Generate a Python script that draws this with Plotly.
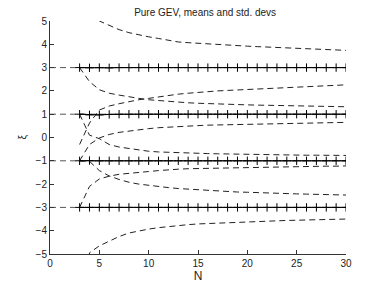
import plotly.graph_objects as go

N = list(range(3, 31))

true_xi = [3, 1, -1, -3]

mean_p3 = [3.00, 2.99, 3.00, 2.99, 3.00, 3.00, 3.00, 3.00, 3.00, 3.00, 3.00, 3.00, 3.00, 3.00,
           3.00, 3.00, 3.00, 3.00, 3.00, 3.00, 3.00, 3.00, 3.00, 3.00, 3.00, 3.00, 3.00, 3.00]
mean_p1 = [1.00, 0.97, 0.97, 0.99, 1.00, 1.00, 1.00, 1.00, 1.00, 1.00, 1.00, 1.00, 1.00, 1.00,
           1.00, 1.00, 1.00, 1.00, 1.00, 1.00, 1.00, 1.00, 1.00, 1.00, 1.00, 1.00, 1.00, 1.00]
mean_m1 = [-1.00, -0.99, -1.00, -1.00, -1.00, -1.00, -1.00, -1.00, -1.00, -1.00, -1.00, -1.00, -1.00, -1.00,
           -1.00, -1.00, -1.00, -1.00, -1.00, -1.00, -1.00, -1.00, -1.00, -1.00, -1.00, -1.00, -1.00, -1.00]
mean_m3 = [-3.00, -3.00, -3.00, -3.00, -3.00, -3.00, -3.00, -3.00, -3.00, -3.00, -3.00, -3.00, -3.00, -3.00,
           -3.00, -3.00, -3.00, -3.00, -3.00, -3.00, -3.00, -3.00, -3.00, -3.00, -3.00, -3.00, -3.00, -3.00]

# dashed spread curves (one per list), starting at N=3
band_a = [14.0, 7.5, 5.00, 4.80, 4.63, 4.50, 4.40, 4.32, 4.25, 4.17, 4.10, 4.07, 4.04, 4.02,
          4.00, 3.97, 3.95, 3.92, 3.90, 3.88, 3.86, 3.84, 3.82, 3.80, 3.79, 3.77, 3.75, 3.74]
band_b = [3.00, 2.40, 2.05, 1.90, 1.82, 1.74, 1.68, 1.62, 1.58, 1.55, 1.52, 1.49, 1.47, 1.45,
          1.44, 1.42, 1.41, 1.40, 1.39, 1.38, 1.37, 1.36, 1.35, 1.35, 1.34, 1.33, 1.33, 1.32]
band_c = [-0.30, 0.62, 1.18, 1.35, 1.45, 1.54, 1.62, 1.68, 1.75, 1.81, 1.86, 1.90, 1.94, 1.97,
          2.00, 2.02, 2.04, 2.06, 2.08, 2.10, 2.12, 2.14, 2.16, 2.18, 2.20, 2.22, 2.24, 2.26]
band_d = [1.00, 0.10, -0.05, -0.30, -0.41, -0.48, -0.54, -0.59, -0.62, -0.64, -0.66, -0.67, -0.68, -0.69,
          -0.70, -0.71, -0.72, -0.72, -0.73, -0.74, -0.74, -0.75, -0.75, -0.76, -0.76, -0.77, -0.77, -0.77]
band_e = [-1.00, -0.30, -0.02, 0.13, 0.22, 0.28, 0.33, 0.38, 0.42, 0.45, 0.47, 0.49, 0.51, 0.53,
          0.54, 0.55, 0.57, 0.58, 0.59, 0.60, 0.60, 0.61, 0.62, 0.62, 0.63, 0.64, 0.64, 0.65]
band_f = [-1.00, -1.02, -1.42, -1.65, -1.80, -1.92, -2.00, -2.06, -2.11, -2.15, -2.19, -2.22, -2.25, -2.27,
          -2.30, -2.32, -2.34, -2.35, -2.37, -2.38, -2.39, -2.40, -2.42, -2.43, -2.44, -2.45, -2.46, -2.47]
band_g = [-3.00, -2.10, -1.78, -1.66, -1.58, -1.53, -1.50, -1.46, -1.42, -1.38, -1.36, -1.34, -1.33, -1.32,
          -1.31, -1.30, -1.29, -1.28, -1.27, -1.26, -1.26, -1.25, -1.25, -1.24, -1.24, -1.23, -1.23, -1.22]
band_h = [-12.0, -4.95, -4.65, -4.45, -4.25, -4.10, -4.00, -3.93, -3.87, -3.82, -3.78, -3.74, -3.71, -3.69,
          -3.67, -3.65, -3.63, -3.62, -3.60, -3.59, -3.58, -3.56, -3.55, -3.54, -3.53, -3.52, -3.51, -3.50]

x_ticks = [0, 5, 10, 15, 20, 25, 30]
y_ticks = [-5, -4, -3, -2, -1, 0, 1, 2, 3, 4, 5]

DASH = "6px,4px"
fig = go.Figure()

for xi in true_xi:
    fig.add_trace(go.Scatter(x=[0, 30], y=[xi, xi], mode="lines",
                             line=dict(color="#555555", width=1, dash=DASH),
                             showlegend=False, hoverinfo="skip"))

for band in [band_a, band_b, band_c, band_d, band_e, band_f, band_g, band_h]:
    fig.add_trace(go.Scatter(x=N, y=band, mode="lines",
                             line=dict(color="#222222", width=1, dash=DASH),
                             showlegend=False, hoverinfo="skip"))

for m in [mean_p3, mean_p1, mean_m1, mean_m3]:
    fig.add_trace(go.Scatter(x=N, y=m, mode="lines+markers",
                             line=dict(color="black", width=1),
                             marker=dict(symbol="cross-thin", size=6,
                                         line=dict(color="black", width=1)),
                             showlegend=False, hoverinfo="skip"))

axis_common = dict(showline=True, linecolor="#333333", linewidth=1, ticks="inside",
                   ticklen=4, tickcolor="#333333", showgrid=False, zeroline=False,
                   mirror=False, automargin=False, tickfont=dict(size=10, color="#222222"))

# page body has an 8px default margin, so the figure is sized/offset to compensate
fig.update_layout(
    width=374, height=279,
    margin=dict(l=42, r=36, t=13, b=33),
    paper_bgcolor="white", plot_bgcolor="white",
    font=dict(family="Liberation Sans, Arial, sans-serif", size=10, color="#222222"),
    title=dict(text="Pure GEV, means and std. devs", x=0.527, xanchor="center",
               y=0.995, yanchor="top", font=dict(size=10)),
    xaxis=dict(range=[0, 30], tickvals=x_ticks, title=dict(text="N", standoff=3),
               **axis_common),
    yaxis=dict(range=[-5, 5], tickvals=y_ticks, **axis_common),
    annotations=[dict(text="ξ", xref="paper", yref="paper", x=0, y=0.5,
                      xshift=-28, xanchor="center", yanchor="middle",
                      textangle=-90, showarrow=False, font=dict(size=10))],
)

fig.write_html("out.html")
